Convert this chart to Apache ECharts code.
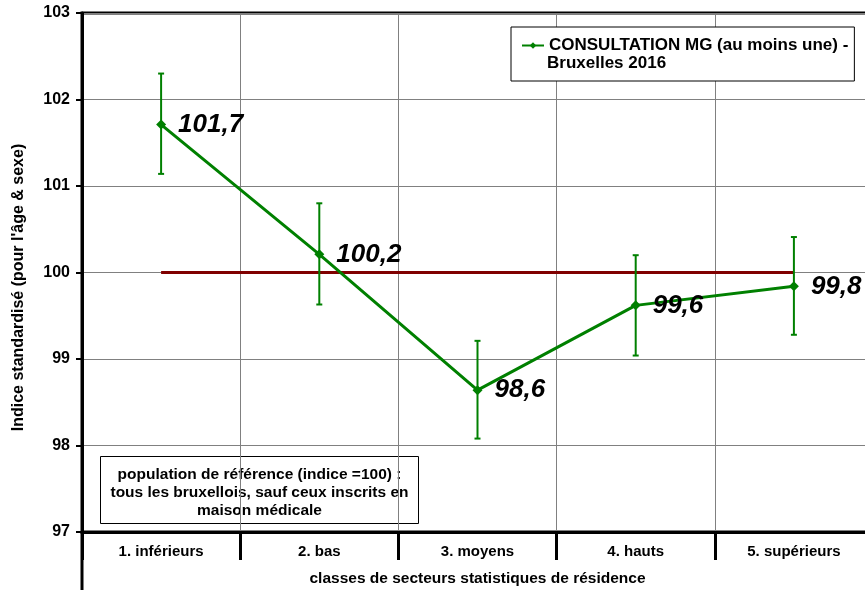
<!DOCTYPE html>
<html><head><meta charset="utf-8">
<script src="https://cdn.jsdelivr.net/npm/echarts@6/dist/echarts.min.js"></script>
<style>html,body{margin:0;padding:0;background:#fff}#c{width:865px;height:590px}</style>
</head><body><div id="c"></div>
<script>
const categories = ['1. inférieurs', '2. bas', '3. moyens', '4. hauts', '5. supérieurs'];
const values = [101.71, 100.21, 98.64, 99.62, 99.84];
const upper = [102.3, 100.8, 99.21, 100.2, 100.41];
const lower = [101.14, 99.63, 98.08, 99.04, 99.28];
const reference = [100, 100, 100, 100, 100];
const yTicks = {min: 97, max: 103, interval: 1};
const FONT = 'Arial, "Liberation Sans", sans-serif';
const GREEN = '#008000';

const chart = echarts.init(document.getElementById('c'));
chart.setOption({
  animation: false,
  textStyle: {fontFamily: FONT},
  grid: {left: 82, top: 13, bottom: 58, right: -8, outerBoundsMode: 'none', containLabel: false,
         show: true, borderColor: '#000', borderWidth: 3, backgroundColor: 'transparent'},
  legend: {
    left: 511, top: 27,
    padding: [10, 6, 27, 10],
    borderColor: '#000', borderWidth: 1, backgroundColor: '#fff',
    itemWidth: 22, itemHeight: 8, itemGap: 2,
    data: ['CONSULTATION MG (au moins une) -'],
    textStyle: {fontFamily: FONT, fontWeight: 'bold', fontSize: 17, color: '#000'}
  },
  xAxis: {
    type: 'category', data: categories,
    axisLine: {lineStyle: {color: '#000', width: 3}},
    axisTick: {show: true, length: 28, lineStyle: {color: '#000', width: 3}},
    axisLabel: {margin: 12, color: '#000', fontWeight: 'bold', fontSize: 15, fontFamily: FONT},
    splitLine: {show: true, lineStyle: {color: '#808080', width: 1}},
    name: 'classes de secteurs statistiques de résidence',
    nameLocation: 'middle', nameGap: 39,
    nameTextStyle: {color: '#000', fontWeight: 'bold', fontSize: 15.5, fontFamily: FONT}
  },
  yAxis: {
    type: 'value', min: yTicks.min, max: yTicks.max, interval: yTicks.interval,
    axisLine: {show: true, lineStyle: {color: '#000', width: 3}},
    axisTick: {show: true, length: 6, lineStyle: {color: '#000', width: 2}},
    axisLabel: {margin: 12, color: '#000', fontWeight: 'bold', fontSize: 16, fontFamily: FONT},
    splitLine: {show: true, lineStyle: {color: '#808080', width: 1}},
    name: "Indice standardisé (pour l'âge & sexe)",
    nameLocation: 'middle', nameGap: 55, nameRotate: 90,
    nameTextStyle: {color: '#000', fontWeight: 'bold', fontSize: 16, fontFamily: FONT, padding: [0, 30, 0, 0]}
  },
  series: [
    {
      name: 'ref', type: 'line', data: reference, symbol: 'none',
      lineStyle: {color: '#800000', width: 3}, z: 2, silent: true
    },
    {
      name: 'err', type: 'custom', z: 3,
      data: upper.map((u, i) => [i, lower[i], u]),
      renderItem: function (params, api) {
        const i = api.value(0);
        const lo = api.coord([i, api.value(1)]);
        const hi = api.coord([i, api.value(2)]);
        const cw = 3;
        const st = {stroke: GREEN, lineWidth: 2};
        return {type: 'group', children: [
          {type: 'line', shape: {x1: hi[0], y1: hi[1], x2: lo[0], y2: lo[1]}, style: st},
          {type: 'line', shape: {x1: hi[0] - cw, y1: hi[1], x2: hi[0] + cw, y2: hi[1]}, style: st},
          {type: 'line', shape: {x1: lo[0] - cw, y1: lo[1], x2: lo[0] + cw, y2: lo[1]}, style: st}
        ]};
      }
    },
    {
      name: 'CONSULTATION MG (au moins une) -', type: 'line', data: values, z: 4,
      symbol: 'diamond', symbolSize: 10,
      itemStyle: {color: GREEN},
      lineStyle: {color: GREEN, width: 3},
      label: {
        show: true, position: 'right', distance: 12,
        formatter: p => (Math.round(p.value * 10) / 10).toFixed(1).replace('.', ','),
        color: '#000', fontWeight: 'bold', fontStyle: 'italic', fontSize: 26, fontFamily: FONT
      }
    }
  ],
  graphic: [
    {type: 'text', left: 547, top: 55, z: 100,
     style: {text: 'Bruxelles 2016', fill: '#000', font: 'bold 17px ' + FONT}},
    {type: 'line', shape: {x1: 82, y1: 532, x2: 82, y2: 590}, style: {stroke: '#000', lineWidth: 3}},
    {type: 'group', left: 100, top: 456, z: 100, children: [
      {type: 'rect', shape: {x: 0, y: 0, width: 318, height: 67}, style: {fill: '#fff', stroke: '#000', lineWidth: 1}},
      {type: 'text', x: 159, y: 9, style: {
        text: 'population de référence (indice =100) :\ntous les bruxellois, sauf ceux inscrits en\nmaison médicale',
        align: 'center', fill: '#000', font: 'bold 15.5px ' + FONT, lineHeight: 18}}
    ]}
  ]
});
</script></body></html>
